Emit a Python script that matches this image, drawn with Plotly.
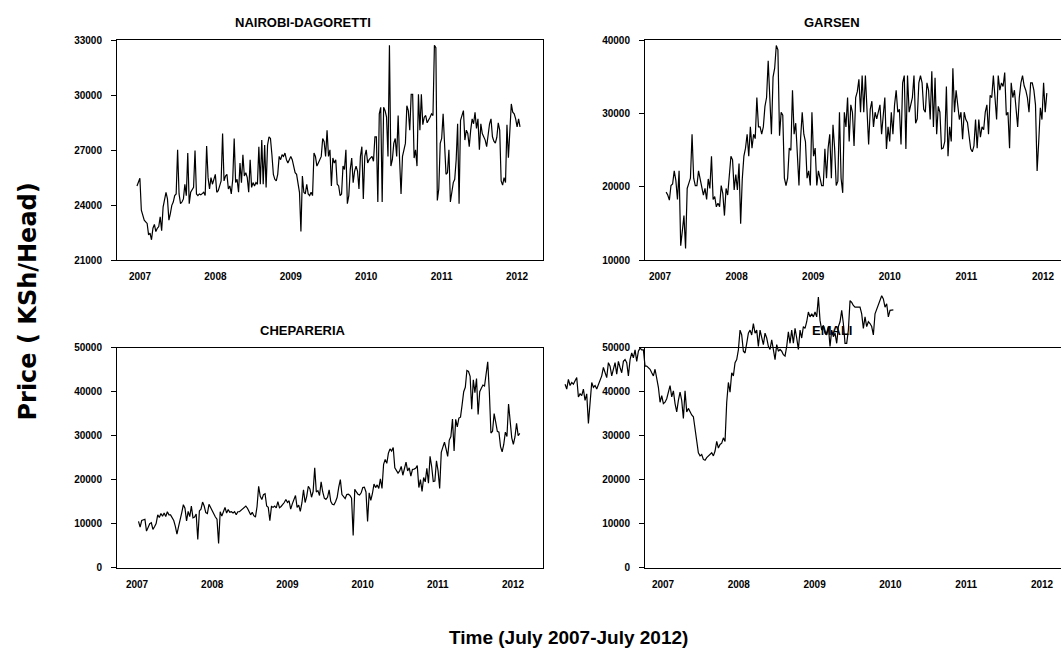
import plotly.graph_objects as go

# ---------------- data (weekly prices, KSh/Head) ----------------
years = [2007, 2008, 2009, 2010, 2011, 2012]
year_labels = ["2007", "2008", "2009", "2010", "2011", "2012"]

nairobi_span = (2006.96, 2012.04)
nairobi = [
    25050, 25330, 25480, 23730, 23370, 23190, 23100, 23010, 22390, 22480,
    22120, 22750, 22960, 22570, 22750, 22840, 23370, 22610, 23900, 24260,
    24710, 24350, 23190, 23550, 24000, 24180, 24530, 24620, 27030, 24620,
    24090, 24180, 24350, 25150, 24530, 26850, 24090, 24710, 24890, 24980,
    26990, 24620, 24530, 24620, 24570, 24620, 24710, 24530, 27240, 25510,
    24890, 25510, 25150, 25420, 25690, 24710, 24800, 25060, 25330, 27920,
    25330, 25600, 25690, 24890, 25060, 24620, 25420, 27650, 25240, 25420,
    24710, 26310, 25240, 26760, 25600, 25780, 25510, 24710, 26490, 24980,
    25240, 25060, 25240, 25150, 27200, 25150, 27560, 25150, 27290, 24980,
    27290, 27740, 27650, 26760, 25690, 25420, 25330, 25690, 26670, 26490,
    26760, 26670, 26850, 26490, 26310, 26490, 26670, 26490, 26140, 25780,
    25690, 25240, 24710, 22570, 25600, 24710, 24620, 25150, 24620, 24530,
    24710, 24530, 26850, 26670, 26140, 26310, 26490, 26670, 27650, 27470,
    26670, 28100, 26670, 27030, 25060, 26580, 26310, 26490, 25150, 25060,
    24530, 24620, 26140, 25960, 27030, 24090, 24530, 25960, 26580, 25240,
    25870, 26140, 25870, 24890, 26670, 27200, 24350, 26670, 27030, 26310,
    26490, 26580, 26670, 26400, 27740, 27740, 24180, 28990, 29350, 24180,
    29350, 29170, 28810, 26670, 32730,
    26140, 26490, 27380, 27650, 26670, 28900, 26490, 24620, 26670, 27030,
    27380, 29430, 29170, 28100, 30060, 30060, 26580, 27030, 26140, 30060,
    28100, 30060, 28400, 28810, 28900, 28500, 28630, 28810, 28990, 28900,
    32730, 32600,
    24270, 24890, 27380, 27650, 28990, 27380, 25690, 25780, 27030, 24180,
    24800, 25240, 25420, 26490, 28450, 24090, 28630, 28900, 29170, 27560,
    28100, 27920, 27200, 28100, 28720, 28450, 29080, 28190, 28720, 27030,
    28450, 27920, 27740, 27560, 27200, 27920, 28450, 28720, 27740, 27500,
    27400, 27700, 28500, 28100, 25330, 25100, 25510, 25240, 28400, 26600,
    28100, 29530, 29080, 28990, 28720, 28280, 28720, 28280,
]

garsen_span = (2007.08, 2012.05)
garsen = [
    19300, 18900, 18200, 20200, 20400, 22200, 20900, 18300, 22200, 12000,
    14000, 16100, 11600, 19800, 20500, 21200, 27200, 21200, 20200, 20200,
    22200, 21200, 20200, 18900, 19800, 18300, 21100, 19800, 24200, 18300,
    18700, 17300, 17800, 17300, 20200, 19100, 16100, 19800, 18900, 21100,
    24200, 23700, 19600, 21700, 19600, 23200, 15000, 21100, 24200, 25300,
    27200, 24200, 28200, 25300, 27200, 26600, 32200, 28200, 28200, 27200,
    28200, 31000, 32200, 37200, 32200, 27200, 35000, 36200, 39300, 38700,
    27000, 30200, 29800, 21200, 20200, 21200, 25300, 25000, 33200, 27200,
    28700, 24200, 20200, 26600, 30200, 27200, 26200, 21200, 22200, 20200,
    30200, 24200, 25300, 20200, 22200, 21200, 20200, 20200, 25200, 21200,
    25300, 27200, 21200, 28500, 25300, 20200, 20800, 30200, 21200, 19200,
    30200, 28200, 32200, 26200, 31200, 30200, 25600, 32200, 33000, 34700,
    30200, 35200, 30200, 35200, 30200, 25800, 30600, 31700, 28200, 30200,
    29300, 30200, 31200, 27200, 30200, 32200, 25200, 28200, 26200, 30200,
    27200, 31200, 33200, 30200, 30600, 25800, 34200, 35200, 25200, 35200,
    30200, 31200, 32200, 35200, 28700, 29300, 34200, 35200, 34200, 30600,
    30200, 34200, 33200, 29200, 35800, 28200, 34900, 27200, 31000, 30200,
    25200, 25300, 26200, 33700, 24200, 28200, 26200, 36200, 30200, 33200,
    31200, 29200, 30200, 26500, 30200, 29200, 28800, 26500, 25200, 24800,
    25600, 29200, 25300, 29200, 26800, 28200, 27800, 30200, 31200, 27200,
    32500, 32200, 35200, 32200, 29200, 35200, 33200, 34200, 33700, 35600,
    29800, 30200, 25300, 34200, 32200, 33200, 30200, 28200, 32200, 34200,
    35200, 33800, 33200, 32200, 30200, 34200, 34200, 33200, 31200, 22200,
    26200, 30800, 29200, 34200, 30200, 32800,
]

chepareria_span = (2007.02, 2012.09)
chepareria = [
    10500, 9200, 10700, 10900, 11000, 8300, 9000, 10000, 10200, 8700,
    9300, 10000, 12000, 11400, 12300, 11700, 12400, 11600, 12700, 12000,
    12000, 11400, 10700, 9400, 7600, 9300, 10700, 12500, 14300, 13500,
    10600, 12800, 11600, 14000, 11300, 11500, 12200, 6400, 12900, 13300,
    14900, 14000, 12500, 12300, 14400, 13700, 12700, 12300, 11500, 11000,
    5500, 12700, 11700, 12700, 13700, 12400, 13200, 12600, 12700, 12400,
    12700, 12000, 12700, 12700, 13000, 13200, 13700, 14000, 13500, 12600,
    12000, 12600, 11800, 11500, 13900, 18500, 16200, 15500, 16600, 16800,
    14000, 13700, 10700, 13900, 13700, 14000, 13600, 15000, 13600, 13900,
    14300, 14800, 15500, 14800, 15200, 13300, 14500, 15600, 16400, 13700,
    14200, 12800, 14700, 17700, 14800, 16200, 18500, 17900, 16000, 17300,
    22700, 17200, 17500, 16400, 19500, 17200, 15800, 15500, 16000, 17700,
    15100, 14400, 14300, 15000, 16000, 18300, 20000, 16600, 16000, 15700,
    16600, 16700, 16400, 15800, 7300, 17800, 17200, 16700, 16500, 17000,
    18200, 18300, 17200, 10500, 17000, 15300, 16800, 19000, 18200, 18800,
    18000, 20200, 18000, 23500, 24600, 23700, 26000, 27000, 26500, 27300,
    22700, 22000, 21500, 22000, 23000, 21000, 22600, 24000, 22000, 22700,
    20800, 22300, 22400, 22600, 23200, 18200, 20000, 17300, 20500, 19500,
    22600, 19200, 25300, 23000, 19600, 19700, 24300, 22000, 18000, 26200,
    27400, 28500, 27000, 25300, 29000, 29800, 33800, 26500, 33700, 32000,
    34000, 34200, 37000, 40000, 41000, 44800, 44600, 43500, 36000, 42700,
    39800, 43000, 34800, 40000, 40800, 41500, 41300, 44000, 46800, 40000,
    30600, 31000, 35000, 33000, 31000, 30800, 27500, 26300, 28000, 30800,
    29800, 37200, 33000, 29500, 28000, 29700, 32800, 30000, 30500,
]

# EMALI line as it is drawn on the EMALI axes (not clipped to the frame)
emali_span = (2005.708, 2010.039)
emali = [
    41700, 40600, 42800, 41400, 42100, 41700, 42500, 43200, 38800, 39500,
    39100, 40600, 38000, 39500, 32800, 38000, 42100, 41000, 41400, 40600,
    41700, 42800, 43600, 45500, 44300, 43200, 46600, 45800, 43600, 45100,
    46600, 44000, 46900, 45500, 44300, 46900, 47300, 46600, 43600, 47300,
    48800, 47700, 49500, 46900, 49200, 49900, 49500, 49500, 45800, 45800,
    45500, 45100, 44300, 43600, 45100, 42800, 41000, 37600, 39100, 37300,
    37600, 38400, 39900, 41400, 38800, 40200, 37300, 35400, 38000, 39900,
    38000, 33900, 40200, 35400, 36200, 35400, 34700, 34300, 31700, 29500,
    26100, 25400, 25700, 24600, 24400, 25000, 25400, 25700, 26100, 25400,
    26500, 28700, 27200, 28000, 28300, 29500, 28700, 37600, 42100, 39900,
    44300, 43600, 46600, 47300, 49500,
    54000, 52900, 49200, 48800, 51000, 53300, 54000, 52900, 55500, 53300,
    54000, 50300, 54000, 52200, 50700, 53300, 52200, 50300, 49600, 51800,
    49600, 47300, 50700, 49200, 49600, 49200, 48400, 48100, 50300, 53600,
    51000, 54000, 51000, 54400, 52200, 49600, 54000, 52200, 54800, 54400,
    55900, 58100, 57000, 57700, 57000, 58100, 57000, 61500, 56200, 54000,
    55100, 53300, 52900, 54800, 50300, 54000, 52500, 53300, 51000, 54800,
    55900, 58500, 55500, 51000, 51000, 54000, 60700, 60300, 59600, 59200,
    59200, 59200, 59200, 57700, 54400, 57000, 54800, 55900, 55500, 54800,
    52900, 57700, 58800, 59600, 60700, 61800, 61100, 59200, 60000, 57000,
    58500, 58500, 58600,
]

titles = ["NAIROBI-DAGORETTI", "GARSEN", "CHEPARERIA", "EMALI"]
y_ticks = [
    [21000, 24000, 27000, 30000, 33000],
    [10000, 20000, 30000, 40000],
    [0, 10000, 20000, 30000, 40000, 50000],
    [0, 10000, 20000, 30000, 40000, 50000],
]

# ---------------- layout geometry (pixels) ----------------
W, H = 1061, 662


def fx(p):
    return p / W


def fy(p):
    return (H - p) / H


def spaced(span, n):
    a, b = span
    return [a + (b - a) * i / (n - 1) for i in range(n)]


# (left, right, top, bottom, x of 2007 tick, x of 2012 tick, mirror y line)
geo = [
    (117, 543, 35, 259, 140, 517, True),
    (645, 1061, 35, 259, 660, 1043, False),
    (117, 543, 348, 572, 137, 513, True),
    (645, 1061, 348, 572, 663, 1042, False),
]
title_pos = [(303, 17), (832, 17), (303, 330), (832, 330)]

series = [(nairobi, nairobi_span), (garsen, garsen_span),
          (chepareria, chepareria_span)]

sans = "Liberation Sans, Arial, sans-serif"

fig = go.Figure()
for i, (vals, span) in enumerate(series, start=1):
    fig.add_trace(go.Scatter(
        x=spaced(span, len(vals)), y=vals, mode="lines",
        line=dict(color="black", width=1.2),
        xaxis=f"x{i}", yaxis=f"y{i}", showlegend=False, hoverinfo="skip"))

# EMALI frame (empty trace so its axes are drawn)
fig.add_trace(go.Scatter(x=[], y=[], mode="lines", xaxis="x4", yaxis="y4",
                         showlegend=False, hoverinfo="skip"))
fig.add_trace(go.Scatter(
    x=spaced(emali_span, len(emali)), y=emali, mode="lines",
    line=dict(color="black", width=1.2),
    xaxis="x5", yaxis="y5", showlegend=False, hoverinfo="skip"))

layout = dict(
    width=W, height=H, autosize=False,
    margin=dict(l=0, r=0, t=0, b=0),
    paper_bgcolor="white", plot_bgcolor="rgba(0,0,0,0)",
    showlegend=False,
)

tickfont = dict(family=sans, size=10, color="black", weight="bold")
for k, (L, R, T, B, t0, t5, mir) in enumerate(geo):
    i = k + 1
    s = (t5 - t0) / 5.0
    xr = [2007 - (t0 - L) / s, 2007 + (R - t0) / s]
    yt = y_ticks[k]
    layout[f"xaxis{i}"] = dict(
        domain=[fx(L), fx(R)], range=xr, anchor=f"y{i}",
        tickvals=years, ticktext=year_labels, ticks="",
        showline=True, linecolor="black", linewidth=1, mirror=True,
        showgrid=False, zeroline=False, tickfont=tickfont,
        ticklabelstandoff=7, fixedrange=True)
    layout[f"yaxis{i}"] = dict(
        domain=[fy(B), fy(T)], range=[yt[0], yt[-1]], anchor=f"x{i}",
        tickvals=yt, ticktext=[str(v) for v in yt],
        ticks="outside", ticklen=5, tickcolor="black",
        showline=True, linecolor="black", linewidth=1, mirror=mir,
        showgrid=False, zeroline=False, tickfont=tickfont,
        ticklabelstandoff=7, fixedrange=True)

# hidden axes sharing the EMALI scale, extended so the line is not clipped
L4, R4, T4, B4, t04, t54, _ = geo[3]
s4 = (t54 - t04) / 5.0
ys4 = (B4 - T4) / 50000.0
oL, oR, oT = 555, 1061, 280
layout["xaxis5"] = dict(domain=[fx(oL), fx(oR)],
                        range=[2007 - (t04 - oL) / s4, 2007 + (oR - t04) / s4],
                        anchor="y5", visible=False, fixedrange=True)
layout["yaxis5"] = dict(domain=[fy(B4), fy(oT)],
                        range=[0, (B4 - oT) / ys4],
                        anchor="x5", visible=False, fixedrange=True)

annotations = []
for (tx, ty), t in zip(title_pos, titles):
    annotations.append(dict(
        text=f"<b>{t}</b>", x=fx(tx), y=fy(ty), xref="paper", yref="paper",
        xanchor="center", yanchor="middle", showarrow=False,
        font=dict(family=sans, size=13, color="black")))
annotations.append(dict(
    text="<b>Price ( KSh/Head)</b>", x=fx(28), y=fy(301),
    xref="paper", yref="paper", xanchor="center", yanchor="middle",
    textangle=-90, showarrow=False,
    font=dict(family="DejaVu Sans, Liberation Sans", size=24, color="black")))
annotations.append(dict(
    text="<b>Time (July 2007-July 2012)</b>", x=fx(568), y=fy(643),
    xref="paper", yref="paper", xanchor="center", yanchor="middle",
    showarrow=False, font=dict(family=sans, size=19, color="black")))
layout["annotations"] = annotations

fig.update_layout(**layout)
fig.write_html("out.html")
